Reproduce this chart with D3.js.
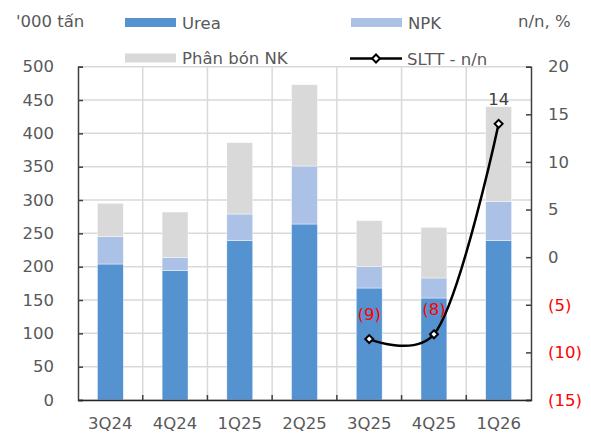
<!DOCTYPE html>
<html>
<head>
<meta charset="utf-8">
<script src="https://cdn.jsdelivr.net/npm/d3@7"></script>
<style>
  html, body { margin: 0; padding: 0; background: #fff; }
  svg { display: block; font-family: "DejaVu Sans", Verdana, sans-serif; }
</style>
</head>
<body>
<svg id="chart" width="591" height="437"></svg>
<script>
// Quarterly fertilizer sales volume ('000 tonnes) and year-on-year change (%)
const quarters = ["3Q24", "4Q24", "1Q25", "2Q25", "3Q25", "4Q25", "1Q26"];
const urea     = [204, 194, 239, 264, 168, 153, 239];
const npk      = [41, 20, 40, 87, 32, 30, 59];
const nk       = [50, 68, 107, 122, 69, 76, 142];
const slttYoY  = [null, null, null, null, -8.6, -8.1, 14.0];

const leftTicks  = [0, 50, 100, 150, 200, 250, 300, 350, 400, 450, 500];
const rightTicks = [-15, -10, -5, 0, 5, 10, 15, 20];

const seriesNames  = ["Urea", "NPK", "Phân bón NK"];
const seriesColors = ["#5592d0", "#abc1e5", "#d9d9d9"];
const lineName = "SLTT - n/n";

const svg = d3.select("#chart");
const plot = { left: 78, right: 531, top: 66.7, bottom: 400 };
const textGray = "#595959";
const fontSize = 16.5;

const x = d3.scaleBand().domain(quarters).range([plot.left, plot.right]).paddingInner(0.6).paddingOuter(0.3);
const xOuter = d3.scaleBand().domain(quarters).range([plot.left, plot.right]);
const yL = d3.scaleLinear().domain([0, 500]).range([plot.bottom, plot.top]);
const yR = d3.scaleLinear().domain([-15, 20]).range([plot.bottom, plot.top]);

// Gridlines
const grid = svg.append("g").attr("stroke", "#d9d9d9").attr("stroke-width", 1.5);
leftTicks.forEach(v => {
  grid.append("line").attr("x1", plot.left).attr("x2", plot.right)
    .attr("y1", yL(v)).attr("y2", yL(v));
});
quarters.forEach((q, i) => {
  if (i === 0) return;
  grid.append("line").attr("x1", xOuter(q)).attr("x2", xOuter(q))
    .attr("y1", plot.top).attr("y2", plot.bottom);
});

// Stacked bars
const rows = quarters.map((q, i) => ({ q, Urea: urea[i], NPK: npk[i], "Phân bón NK": nk[i] }));
const stack = d3.stack().keys(seriesNames)(rows);
const barsG = svg.append("g");
stack.forEach((layer, k) => {
  barsG.selectAll(null).data(layer).join("rect")
    .attr("x", d => x(d.data.q))
    .attr("width", x.bandwidth())
    .attr("y", d => yL(d[1]))
    .attr("height", d => yL(d[0]) - yL(d[1]))
    .attr("fill", seriesColors[k])
    .attr("stroke", "#ffffff")
    .attr("stroke-width", 0.6)
    .attr("stroke-opacity", 0.7);
});

// Axes
const axisColor = "#404040";
const leftAxis = d3.axisLeft(yL).tickValues(leftTicks).tickSize(-5).tickPadding(24);
const gl = svg.append("g").attr("transform", `translate(${plot.left},0)`).call(leftAxis);
const rightAxis = d3.axisRight(yR).tickValues(rightTicks).tickSize(-5).tickPadding(17)
  .tickFormat(v => v < 0 ? `(${Math.abs(v)})` : `${v}`);
const gr = svg.append("g").attr("transform", `translate(${plot.right},0)`).call(rightAxis);
const bottomAxis = d3.axisBottom(xOuter).tickSize(0).tickPadding(17);
const gb = svg.append("g").attr("transform", `translate(0,${plot.bottom})`).call(bottomAxis);

[gl, gr, gb].forEach(g => {
  g.select(".domain").attr("stroke", axisColor).attr("stroke-width", 1.5);
  g.selectAll(".tick line").attr("stroke", axisColor).attr("stroke-width", 1.5);
  g.selectAll(".tick text").attr("font-size", fontSize).attr("font-family", "DejaVu Sans, Verdana, sans-serif")
    .attr("fill", textGray);
});
gr.selectAll(".tick text").attr("fill", d => d < 0 ? "#ff0000" : textGray);
gb.select(".domain").attr("stroke", "#262626");

// Category boundary ticks on the bottom axis (pointing inward)
quarters.forEach((q, i) => {
  if (i === 0) return;
  svg.append("line").attr("x1", xOuter(q)).attr("x2", xOuter(q))
    .attr("y1", plot.bottom).attr("y2", plot.bottom - 5)
    .attr("stroke", axisColor).attr("stroke-width", 1.5);
});

// Year-on-year line on the secondary axis
const pts = quarters.map((q, i) => ({ q, v: slttYoY[i] })).filter(d => d.v !== null);
const line = d3.line()
  .x(d => x(d.q) + x.bandwidth() / 2)
  .y(d => yR(d.v))
  .curve(d3.curveCatmullRom.alpha(0.25));
svg.append("path").datum(pts).attr("d", line)
  .attr("fill", "none").attr("stroke", "#000").attr("stroke-width", 2.5);

const diamond = d3.symbol().type(d3.symbolDiamond2).size(40);
svg.selectAll(null).data(pts).join("path")
  .attr("d", diamond)
  .attr("transform", d => `translate(${x(d.q) + x.bandwidth() / 2},${yR(d.v)})`)
  .attr("fill", "#fff").attr("stroke", "#000").attr("stroke-width", 2);

const fmtLabel = v => v < 0 ? `(${Math.abs(Math.round(v))})` : `${Math.round(v)}`;
svg.selectAll(null).data(pts).join("text")
  .attr("x", d => x(d.q) + x.bandwidth() / 2)
  .attr("y", d => yR(d.v) - 19)
  .attr("text-anchor", "middle")
  .attr("font-size", fontSize)
  .attr("fill", d => d.v < 0 ? "#ff0000" : "#404040")
  .text(d => fmtLabel(d.v));

// Axis titles
svg.append("text").attr("x", 16).attr("y", 27).attr("font-size", fontSize)
  .attr("fill", textGray).text("'000 tấn");
svg.append("text").attr("x", 518).attr("y", 27).attr("font-size", fontSize)
  .attr("fill", textGray).text("n/n, %");

// Legend
const legend = svg.append("g");
const legendItems = [
  { name: seriesNames[0], color: seriesColors[0], x: 125, y: 22.5 },
  { name: seriesNames[1], color: seriesColors[1], x: 351, y: 22.5 },
  { name: seriesNames[2], color: seriesColors[2], x: 125, y: 58 }
];
legendItems.forEach(it => {
  legend.append("rect").attr("x", it.x).attr("y", it.y - 4.5).attr("width", 51).attr("height", 9)
    .attr("fill", it.color);
  legend.append("text").attr("x", it.x + 57).attr("y", it.y + 6).attr("font-size", fontSize)
    .attr("fill", textGray).text(it.name);
});
legend.append("line").attr("x1", 350).attr("x2", 402).attr("y1", 58.5).attr("y2", 58.5)
  .attr("stroke", "#000").attr("stroke-width", 2.5);
legend.append("path").attr("d", diamond).attr("transform", "translate(376,58.5)")
  .attr("fill", "#fff").attr("stroke", "#000").attr("stroke-width", 2);
legend.append("text").attr("x", 407).attr("y", 64.5).attr("font-size", fontSize)
  .attr("fill", textGray).text(lineName);
</script>
</body>
</html>
